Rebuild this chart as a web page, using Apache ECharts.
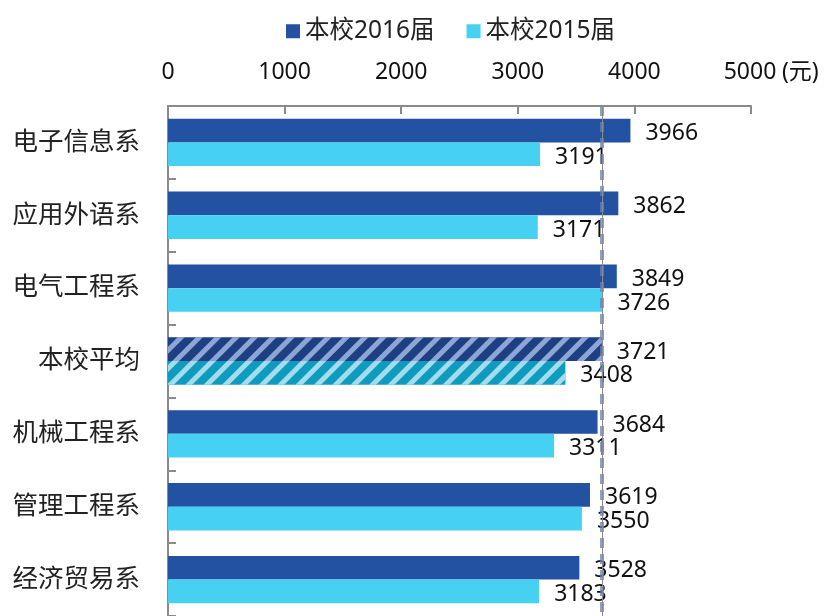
<!DOCTYPE html>
<html>
<head>
<meta charset="utf-8">
<script src="https://cdn.jsdelivr.net/npm/echarts@6/dist/echarts.min.js"></script>
<style>
  html, body { margin: 0; padding: 0; background: #fff; }
  #chart { width: 825px; height: 616px; }
</style>
</head>
<body>
<div id="chart"></div>
<script>
// 各系月收入（元）
const categories = ['电子信息系', '应用外语系', '电气工程系', '本校平均', '机械工程系', '管理工程系', '经济贸易系'];
const seriesNames = ['本校2016届', '本校2015届'];
const income2016 = [3966, 3862, 3849, 3721, 3684, 3619, 3528];
const income2015 = [3191, 3171, 3726, 3408, 3311, 3550, 3183];
const xTicks = { min: 0, max: 5000, interval: 1000 };
const unitText = '(元)';
const averageLabel = '本校平均';

const FONT = '"Noto Sans", "Noto Sans CJK SC", sans-serif';
const colors = ['#2352A2', '#46D0F2'];
const avgColors = ['#1E3F82', '#0F9BBE'];
const stripeColors = ['#8DA6D6', '#A3DDEC'];
const avgIndex = categories.indexOf(averageLabel);

function stripes(color) {
  return {
    symbol: 'rect',
    symbolSize: 1,
    color: color,
    dashArrayX: [1, 0],
    dashArrayY: [5, 8],
    rotation: -Math.PI / 4
  };
}

function buildData(values, k) {
  return values.map((v, i) => i === avgIndex
    ? { value: v, itemStyle: { color: avgColors[k], decal: stripes(stripeColors[k]) } }
    : v);
}

const valueLabel = {
  show: true,
  position: 'right',
  distance: 15,
  offset: [0, 3],
  fontFamily: FONT,
  fontSize: 23,
  color: '#111'
};

// the unit sits right after the last tick label; an equal blank on the left keeps the number centred on its tick
const UNIT_W = 44;
const tickText = { fontFamily: FONT, fontSize: 23, color: '#111' };

const chart = echarts.init(document.getElementById('chart'), null, { renderer: 'canvas' });
chart.setOption({
  animation: false,
  backgroundColor: '#fff',
  textStyle: { fontFamily: FONT },
  color: colors,
  legend: {
    data: seriesNames,
    left: 281,
    top: 14,
    icon: 'rect',
    itemWidth: 14,
    itemHeight: 14,
    itemGap: 32,
    textStyle: { fontFamily: FONT, fontSize: 24.5, color: '#222' }
  },
  grid: { left: 168, top: 106, width: 583, height: 514, containLabel: false },
  xAxis: {
    type: 'value',
    position: 'top',
    min: xTicks.min,
    max: xTicks.max,
    interval: xTicks.interval,
    axisLine: { show: true, lineStyle: { color: '#8a8a8a', width: 2 } },
    axisTick: { show: true, inside: true, length: 8, lineStyle: { color: '#8a8a8a', width: 2 } },
    axisLabel: Object.assign({
      margin: 22,
      formatter: v => v === xTicks.max ? '{s|}{n|' + v + '}{u|' + unitText + '}' : String(v),
      rich: {
        s: { width: UNIT_W },
        n: tickText,
        u: Object.assign({ width: UNIT_W, align: 'left', padding: [0, 0, 0, 2] }, tickText)
      }
    }, tickText),
    splitLine: { show: false }
  },
  yAxis: {
    type: 'category',
    data: categories,
    inverse: true,
    axisLine: { show: true, lineStyle: { color: '#8a8a8a', width: 2 } },
    axisTick: { show: true, inside: true, length: 8, lineStyle: { color: '#8a8a8a', width: 2 } },
    axisLabel: { margin: 28, fontFamily: FONT, fontSize: 25.5, color: '#222' }
  },
  series: [
    {
      name: seriesNames[0],
      type: 'bar',
      data: buildData(income2016, 0),
      barGap: '0%',
      barCategoryGap: '35%',
      label: valueLabel,
      markLine: {
        silent: true,
        symbol: 'none',
        label: { show: false },
        z: 10,
        data: [
          { xAxis: income2016[avgIndex], lineStyle: { color: 'rgba(95,130,200,0.75)', width: 4, type: [10, 6] } },
          { xAxis: income2016[avgIndex], lineStyle: { color: '#8a8a8a', width: 1, type: 'solid' } }
        ]
      }
    },
    {
      name: seriesNames[1],
      type: 'bar',
      data: buildData(income2015, 1),
      barGap: '0%',
      barCategoryGap: '35%',
      label: valueLabel
    }
  ]
});
</script>
</body>
</html>
